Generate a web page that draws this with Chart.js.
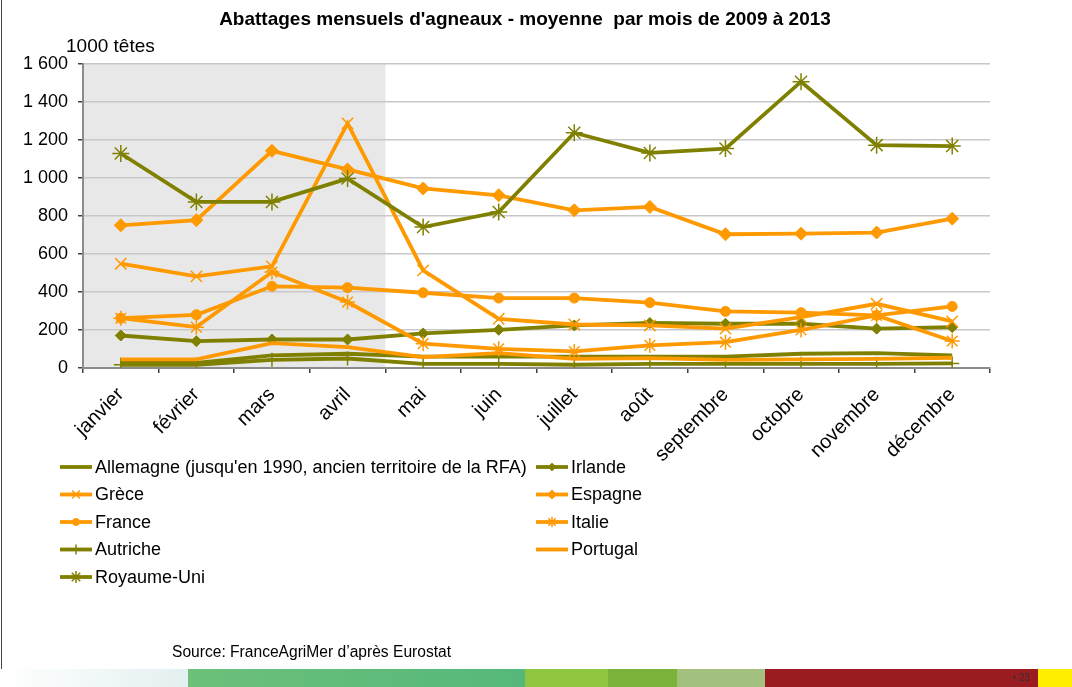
<!DOCTYPE html>
<html>
<head>
<meta charset="utf-8">
<title>Abattages mensuels d'agneaux</title>
<script src="https://cdn.jsdelivr.net/npm/chart.js"></script>
<style>
  body { margin: 0; background: #fff; font-family: "Liberation Sans", Arial, sans-serif; }
  #wrap { position: relative; width: 1072px; height: 687px; overflow: hidden; background: #fff; }
  #chart { position: absolute; left: 0; top: 0; }
  #frame { position: absolute; left: 1px; top: 0; width: 1px; height: 669px; background: #444; }
  #title { position: absolute; left: 0; width: 1050px; top: 8px; text-align: center; font-weight: bold; font-size: 19px; white-space: pre; }
  #unit { position: absolute; left: 66px; top: 35px; font-size: 19px; }
  #source { position: absolute; left: 172px; top: 643px; font-size: 15.6px; }
  .bar { position: absolute; top: 669px; height: 18px; }
  #page { position: absolute; left: 1012px; top: 672px; font-size: 10px; color: #333; }
</style>
</head>
<body>
<div id="wrap">
  <canvas id="chart" width="1072" height="668"></canvas>
  <div id="frame"></div>
  <div id="title">Abattages mensuels d'agneaux - moyenne  par mois de 2009 à 2013</div>
  <div id="unit">1000 têtes</div>
  <div id="source">Source: FranceAgriMer d’après Eurostat</div>
  <div class="bar" style="left:0;width:188px;background:linear-gradient(to right,#ffffff,#e3f0f0);"></div>
  <div class="bar" style="left:188px;width:337px;background:linear-gradient(to right,#6cc07a,#55b87a);"></div>
  <div class="bar" style="left:525px;width:83px;background:#8ec63f;"></div>
  <div class="bar" style="left:608px;width:69px;background:#7bb23a;"></div>
  <div class="bar" style="left:677px;width:88px;background:#a3c07e;"></div>
  <div class="bar" style="left:765px;width:273px;background:#9a1b20;"></div>
  <div class="bar" style="left:1038px;width:34px;background:#ffee00;"></div>
  <div id="page">• 23</div>
</div>

<script>
  const months = ['janvier', 'février', 'mars', 'avril', 'mai', 'juin', 'juillet', 'août', 'septembre', 'octobre', 'novembre', 'décembre'];

  const allemagne = [27, 27, 66, 75, 60, 60, 60, 60, 60, 75, 78, 66];
  const irlande = [171, 141, 150, 150, 182, 201, 224, 237, 233, 233, 207, 215];
  const grece = [549, 482, 535, 1287, 514, 259, 229, 224, 207, 268, 338, 245];
  const espagne = [751, 778, 1143, 1045, 945, 909, 830, 848, 704, 707, 713, 786];
  const france = [262, 280, 430, 423, 396, 368, 368, 344, 298, 291, 277, 324];
  const italie = [262, 215, 505, 347, 128, 101, 87, 119, 136, 200, 277, 142];
  const autriche = [17, 17, 43, 50, 22, 22, 17, 22, 22, 22, 22, 24];
  const portugal = [45, 45, 131, 110, 57, 78, 48, 52, 43, 45, 48, 54];
  const royaumeUni = [1129, 874, 874, 997, 742, 821, 1238, 1132, 1155, 1507, 1173, 1168];

  const OLIVE = '#808000';
  const ORANGE = '#ff9900';

  function serie(label, data, color, style, radius, border) {
    return {
      label: label,
      data: data,
      borderColor: color,
      backgroundColor: color,
      borderWidth: 3.8,
      tension: 0,
      pointStyle: style || 'circle',
      pointRadius: style ? radius : 0,
      pointHoverRadius: style ? radius : 0,
      pointBackgroundColor: color,
      pointBorderColor: color,
      pointBorderWidth: border || 1,
    };
  }

  const datasets = [
    serie("Allemagne (jusqu'en 1990, ancien territoire de la RFA)", allemagne, OLIVE),
    serie('Irlande', irlande, OLIVE, 'rectRot', 5.5),
    serie('Grèce', grece, ORANGE, 'crossRot', 8, 1.5),
    serie('Espagne', espagne, ORANGE, 'rectRot', 6.5),
    serie('France', france, ORANGE, 'circle', 5),
    serie('Italie', italie, ORANGE, 'star', 7.5, 1.5),
    serie('Autriche', autriche, OLIVE, 'cross', 7, 1.5),
    serie('Portugal', portugal, ORANGE),
    serie('Royaume-Uni', royaumeUni, OLIVE, 'star', 8.5, 1.5),
  ];
  // later series on top, like the original
  datasets.forEach((d, i) => { d.order = datasets.length - i; });

  // grey background behind January-April
  const shading = {
    id: 'shading',
    beforeDraw(chart) {
      const x = chart.scales.x;
      const area = chart.chartArea;
      const end = (x.getPixelForValue(3) + x.getPixelForValue(4)) / 2;
      const ctx = chart.ctx;
      ctx.save();
      ctx.fillStyle = '#e8e8e8';
      ctx.fillRect(area.left, area.top, end - area.left, area.bottom - area.top);
      ctx.restore();
    },
  };

  // two-column legend, filled row by row
  const legend2 = {
    id: 'legend2',
    afterDraw(chart) {
      const ctx = chart.ctx;
      chart.data.datasets.forEach((ds, i) => {
        const x0 = i % 2 === 0 ? 60 : 536;
        const y = 467 + Math.floor(i / 2) * 27.5;
        ctx.save();
        ctx.strokeStyle = ds.borderColor;
        ctx.lineWidth = ds.borderWidth;
        ctx.beginPath();
        ctx.moveTo(x0, y);
        ctx.lineTo(x0 + 32, y);
        ctx.stroke();
        if (ds.pointRadius > 0) {
          ctx.fillStyle = ds.pointBackgroundColor;
          ctx.strokeStyle = ds.pointBorderColor;
          ctx.lineWidth = ds.pointBorderWidth;
          Chart.helpers.drawPoint(ctx, {
            pointStyle: ds.pointStyle,
            radius: ds.pointRadius * 0.7,
            borderWidth: ds.pointBorderWidth,
            rotation: 0,
          }, x0 + 16, y);
        }
        ctx.fillStyle = '#000';
        ctx.font = '18px "Liberation Sans", Arial, sans-serif';
        ctx.textBaseline = 'middle';
        ctx.textAlign = 'left';
        ctx.fillText(ds.label, x0 + 35, y + 1);
        ctx.restore();
      });
    },
  };

  const ctx = document.getElementById('chart').getContext('2d');
  const chart = new Chart(ctx, {
    type: 'line',
    data: { labels: months, datasets: datasets },
    plugins: [shading, legend2],
    options: {
      responsive: false,
      animation: false,
      layout: { padding: { left: 0, right: 82, top: 64, bottom: 200 } },
      plugins: { legend: { display: false }, tooltip: { enabled: false } },
      scales: {
        x: {
          offset: true,
          afterFit: (s) => { s.height = 100; },
          grid: { offset: true, drawOnChartArea: false, drawTicks: true, tickLength: 5, tickColor: '#404040', lineWidth: 1.5 },
          border: { color: '#8c8c8c', width: 2 },
          ticks: {
            color: '#000',
            font: { family: '"Liberation Sans", Arial, sans-serif', size: 20 },
            minRotation: 45,
            maxRotation: 45,
            autoSkip: false,
            padding: 10,
            labelOffset: 0,
          },
        },
        y: {
          min: 0,
          max: 1600,
          afterFit: (s) => { s.width = 83; },
          grid: { color: '#c8c8c8', lineWidth: 1.5, tickLength: 5, tickColor: '#404040' },
          border: { color: '#8c8c8c', width: 2 },
          ticks: {
            stepSize: 200,
            color: '#000',
            padding: 10,
            font: { family: '"Liberation Sans", Arial, sans-serif', size: 18 },
            callback: (v) => v >= 1000 ? Math.floor(v / 1000) + ' ' + String(v % 1000).padStart(3, '0') : String(v),
          },
        },
      },
    },
  });
</script>
</body>
</html>
